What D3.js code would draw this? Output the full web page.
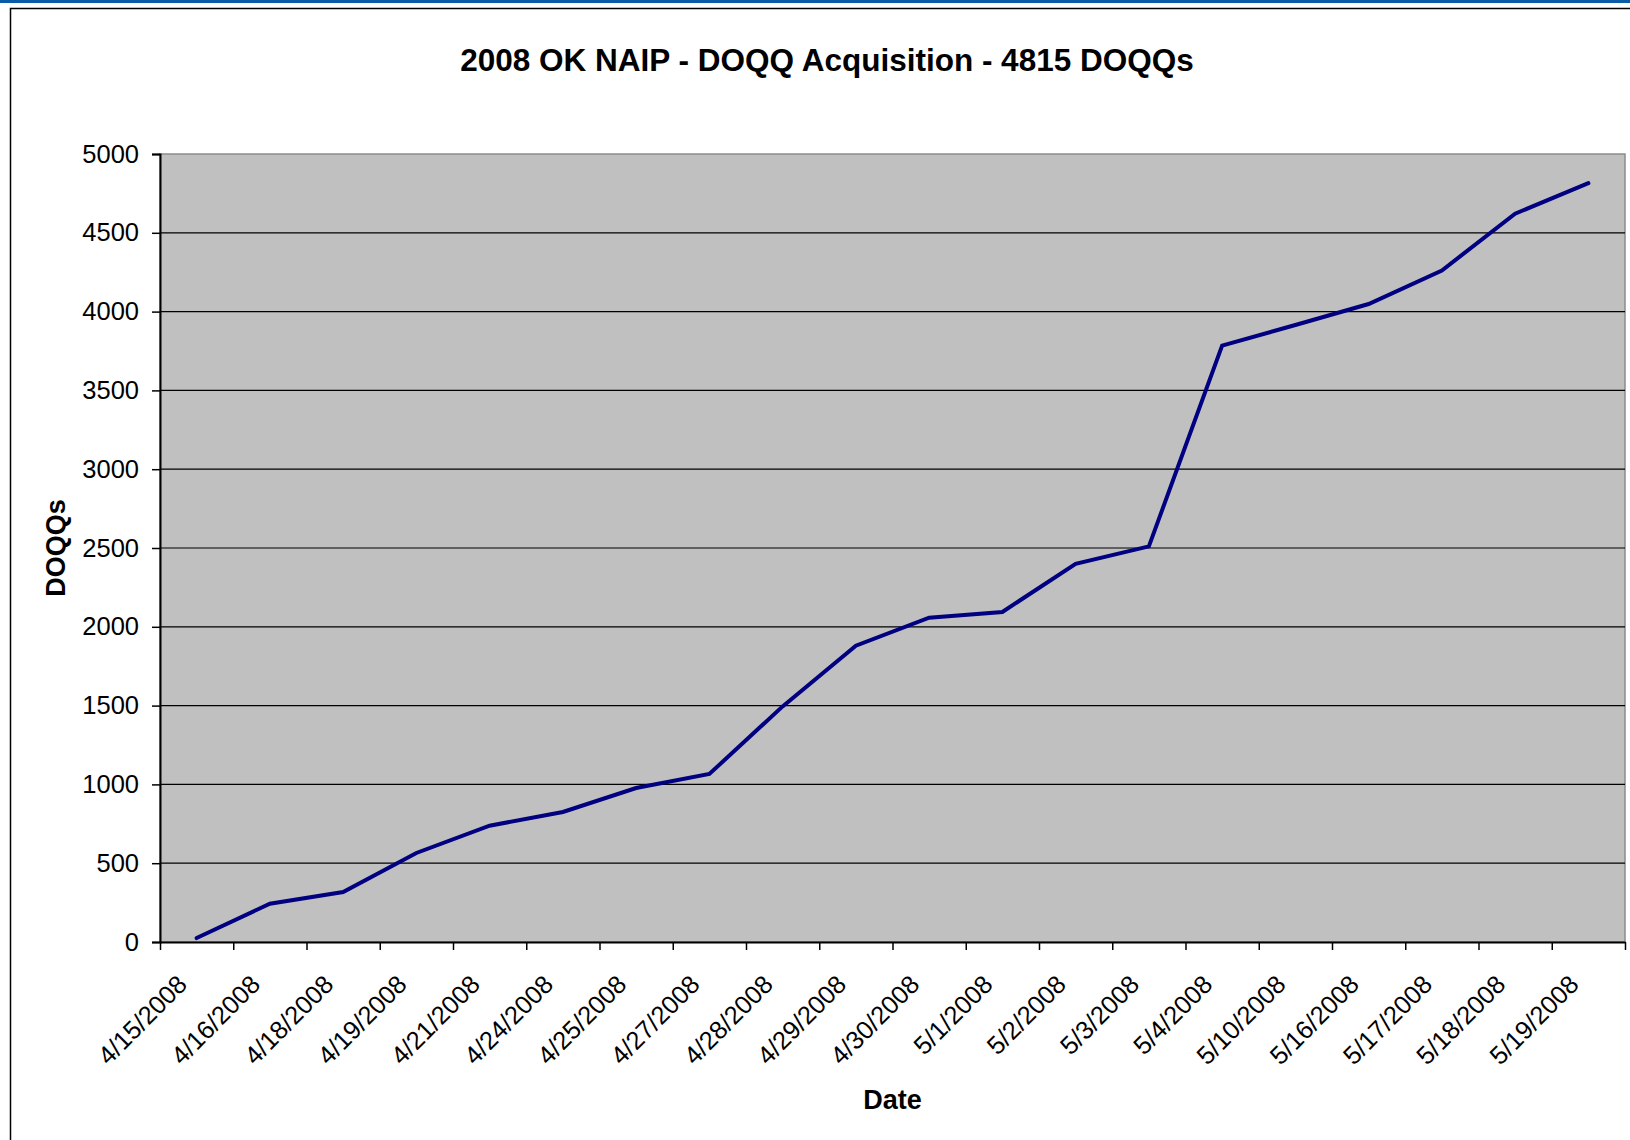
<!DOCTYPE html>
<html>
<head>
<meta charset="utf-8">
<script src="https://cdn.jsdelivr.net/npm/d3@7"></script>
<style>
  body { margin: 0; background: #fff; }
  svg { display: block; font-family: "Liberation Sans", Arial, sans-serif; }
</style>
</head>
<body>
<script>
// values
var dates = ["4/15/2008","4/16/2008","4/18/2008","4/19/2008","4/21/2008","4/24/2008",
             "4/25/2008","4/27/2008","4/28/2008","4/29/2008","4/30/2008","5/1/2008",
             "5/2/2008","5/3/2008","5/4/2008","5/10/2008","5/16/2008","5/17/2008",
             "5/18/2008","5/19/2008"];
var doqqs = [25, 243, 317, 565, 738, 825, 977, 1066, 1495, 1880,
             2058, 2094, 2400, 2510, 3784, 3915, 4048, 4261, 4621, 4815];
var yTicks = [0, 500, 1000, 1500, 2000, 2500, 3000, 3500, 4000, 4500, 5000];

var width = 1630;
var height = 1140;
var margins = {
  top: 154,
  bottom: 198,
  left: 160,
  right: 5
}

var svg = d3.select("body").append("svg")
  .attr("width", width)
  .attr("height", height);

// blue strip + outer chart border
svg.append("rect").attr("x", 0).attr("y", 0).attr("width", width).attr("height", 3)
  .attr("fill", "#0a5ca6");
svg.append("rect").attr("x", 10.5).attr("y", 8.5).attr("width", width + 20).attr("height", height + 20)
  .attr("fill", "none").attr("stroke", "#000").attr("stroke-width", 1.5);

var plotW = width - margins.left - margins.right;
var plotH = height - margins.top - margins.bottom;

var xScale = d3.scaleBand()
  .domain(dates)
  .range([margins.left, margins.left + plotW])
  .padding(0);

var edgeScale = d3.scaleLinear()
  .domain([0, dates.length])
  .range([margins.left, margins.left + plotW]);

var yScale = d3.scaleLinear()
  .domain([0, 5000])
  .range([margins.top + plotH, margins.top]);

// plot area
svg.append("rect")
  .attr("x", margins.left).attr("y", margins.top)
  .attr("width", plotW).attr("height", plotH)
  .attr("fill", "#c0c0c0")
  .attr("stroke", "#8c8c8c").attr("stroke-width", 1.5);

// gridlines
svg.append("g")
  .selectAll("line")
  .data(yTicks.slice(1, -1))
  .enter()
  .append("line")
  .attr("x1", margins.left).attr("x2", margins.left + plotW)
  .attr("y1", function(d){ return yScale(d); })
  .attr("y2", function(d){ return yScale(d); })
  .attr("stroke", "#000").attr("stroke-width", 1.2);

// y axis
var yAxis = svg.append("g")
  .attr("transform", "translate(" + margins.left + ",0)")
  .call(d3.axisLeft(yScale).tickValues(yTicks).tickFormat(d3.format("d"))
        .tickSize(8).tickPadding(13));
yAxis.select(".domain").attr("stroke", "#000").attr("stroke-width", 2);
yAxis.selectAll(".tick line").attr("stroke", "#000").attr("stroke-width", 1.5);
yAxis.selectAll(".tick text")
  .attr("font-size", 25.5)
  .attr("font-family", "'Liberation Sans', Arial, sans-serif")
  .attr("fill", "#000");

// x axis, ticks between categories
var xAxis = svg.append("g")
  .attr("transform", "translate(0," + (margins.top + plotH) + ")")
  .call(d3.axisBottom(edgeScale).tickValues(d3.range(dates.length + 1))
        .tickSize(8).tickSizeOuter(0).tickFormat(""));
xAxis.select(".domain").attr("stroke", "#000").attr("stroke-width", 2);
xAxis.selectAll(".tick line").attr("stroke", "#000").attr("stroke-width", 1.5);

svg.append("g")
  .selectAll("text")
  .data(dates)
  .enter()
  .append("text")
  .attr("transform", function(d){
    var cx = xScale(d) + xScale.bandwidth() / 2 - 8;
    return "translate(" + cx + "," + (margins.top + plotH + 44) + ") rotate(-45)";
  })
  .attr("text-anchor", "end")
  .attr("font-size", 25.5)
  .attr("fill", "#000")
  .text(function(d){ return d; });

// the line
var line = d3.line()
  .x(function(d, i){ return xScale(dates[i]) + xScale.bandwidth() / 2; })
  .y(function(d){ return yScale(d); });

svg.append("path")
  .datum(doqqs)
  .attr("d", line)
  .attr("fill", "none")
  .attr("stroke", "#000080")
  .attr("stroke-width", 4)
  .attr("stroke-linecap", "round");

// titles
svg.append("text")
  .attr("x", 827).attr("y", 71)
  .attr("text-anchor", "middle")
  .attr("font-size", 31.5)
  .attr("font-weight", "bold")
  .text("2008 OK NAIP - DOQQ Acquisition - 4815 DOQQs");

svg.append("text")
  .attr("x", margins.left + plotW / 2).attr("y", 1109)
  .attr("text-anchor", "middle")
  .attr("font-size", 27)
  .attr("font-weight", "bold")
  .text("Date");

svg.append("text")
  .attr("transform", "translate(65,548) rotate(-90)")
  .attr("text-anchor", "middle")
  .attr("font-size", 27)
  .attr("font-weight", "bold")
  .text("DOQQs");
</script>
</body>
</html>
